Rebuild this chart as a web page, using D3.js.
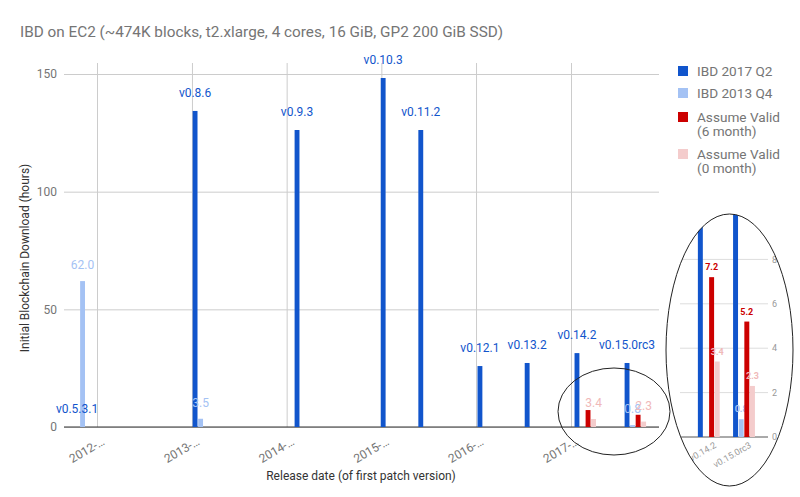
<!DOCTYPE html>
<html><head><meta charset="utf-8">
<script src="https://cdn.jsdelivr.net/npm/d3@7"></script>
<style>body{margin:0;background:#fff;} svg text{font-family:Roboto, Arial, sans-serif;}</style>
</head><body><svg id="c" width="800" height="497"></svg>
<script>
// ---------- data ----------
const versions = ["v0.5.3.1","v0.8.6","v0.9.3","v0.10.3","v0.11.2","v0.12.1","v0.13.2","v0.14.2","v0.15.0rc3"];
const releaseDates = ["2011-11-17","2013-02-14","2014-03-14","2015-02-09","2015-07-04","2016-02-17","2016-08-17","2017-02-25","2017-09-06"];
const ibd2017Q2 = [0,134.3,126.2,148.3,126.2,25.9,27.2,31.4,27.2];
const ibd2013Q4 = [62.0,3.5,null,null,null,null,null,null,0.8];
const assumeValid6 = [null,null,null,null,null,null,null,7.2,5.2];
const assumeValid0 = [null,null,null,null,null,null,null,3.4,2.3];
const seriesNames = [["IBD 2017 Q2"],["IBD 2013 Q4"],["Assume Valid","(6 month)"],["Assume Valid","(0 month)"]];
const seriesColors = ["#1155cc","#a4c2f4","#cc0000","#f4cccc"];
const labelColors = ["#1155cc","#a4c2f4","#cc0000","#f0b9b9"];
const yTicks = [0,50,100,150];
const xTickYears = [2012,2013,2014,2015,2016,2017];
const insetVersions = ["v0.14.2","v0.15.0rc3"];
const insetTicks = [0,2,4,6,8];
const titleText = "IBD on EC2 (~474K blocks, t2.xlarge, 4 cores, 16 GiB, GP2 200 GiB SSD)";
const yTitle = "Initial Blockchain Download (hours)";
const xTitle = "Release date (of first patch version)";

(function(){
const series = [ibd2017Q2, ibd2013Q4, assumeValid6, assumeValid0];
const parse = d3.timeParse("%Y-%m-%d");

const svg = d3.select("#c");
svg.append("rect").attr("width",800).attr("height",497).attr("fill","#fff");

// title
svg.append("text").attr("x",20).attr("y",37).attr("font-size",15.3).attr("fill","#757575").text(titleText);

// ---------- main chart ----------
const x = d3.scaleTime().domain([new Date(2012,0,1), new Date(2017,0,1)]).range([97,571]);
const y = d3.scaleLinear().domain([0,150]).range([427,74]);
const inner = d3.scaleBand().domain([0,1,2,3]).range([-11.4,11.4]).padding(0.12);
const pLeft = 64, pRight = 659, pTop = 63;

// horizontal grid + y labels
const ya = svg.append("g").attr("transform",`translate(${pLeft},0)`)
  .call(d3.axisLeft(y).tickValues(yTicks).tickSize(-(pRight-pLeft)).tickPadding(7));
ya.select(".domain").remove();
ya.selectAll(".tick line").attr("stroke","#cccccc");
ya.selectAll(".tick text").attr("font-size",12).attr("fill","#757575").attr("font-family","Roboto, Arial, sans-serif");

// vertical grid + x labels
const xa = svg.append("g").attr("transform",`translate(0,427)`)
  .call(d3.axisBottom(x).tickValues(xTickYears.map(yr=>new Date(yr,0,1))).tickSize(-(427-pTop)).tickFormat(d=>d3.timeFormat("%Y")(d)+"-\u2026"));
xa.select(".domain").remove();
xa.selectAll(".tick line").attr("stroke","#cccccc");
xa.selectAll(".tick text").attr("font-size",12).attr("fill","#757575").attr("font-family","Roboto, Arial, sans-serif")
  .attr("text-anchor","end").attr("y",0).attr("dy",0)
  .attr("transform","translate(8,17) rotate(-30)");

// baseline
svg.append("line").attr("x1",pLeft).attr("x2",pRight).attr("y1",y(0)).attr("y2",y(0)).attr("stroke","#333").attr("stroke-width",1);

// bars
const barsG = svg.append("g");
series.forEach((vals,si)=>{
  vals.forEach((v,i)=>{
    if(v===null) return;
    const cx = x(parse(releaseDates[i])) + inner(si);
    barsG.append("rect").attr("x",cx).attr("width",inner.bandwidth())
      .attr("y",y(v)).attr("height",y(0)-y(v)).attr("fill",seriesColors[si]);
  });
});
// labels (main)
versions.forEach((name,i)=>{
  const cx = x(parse(releaseDates[i])) + inner(0) + inner.bandwidth()/2;
  svg.append("text").attr("x",cx).attr("y",y(ibd2017Q2[i])-14).attr("text-anchor","middle")
    .attr("font-size",12).attr("fill",labelColors[0]).text(name);
});
[1,3].forEach(si=>{
  series[si].forEach((v,i)=>{
    if(v===null) return;
    const cx = x(parse(releaseDates[i])) + inner(si) + inner.bandwidth()/2;
    svg.append("text").attr("x",cx).attr("y",y(v)-12).attr("text-anchor","middle")
      .attr("font-size",12).attr("fill",labelColors[si]).text(v.toFixed(1));
  });
});

// axis titles
svg.append("text").attr("transform","translate(29,258) rotate(-90)").attr("text-anchor","middle")
  .attr("font-size",12).attr("fill","#333").text(yTitle);
svg.append("text").attr("x",361).attr("y",480).attr("text-anchor","middle")
  .attr("font-size",12).attr("fill","#333").text(xTitle);

// legend
const legendRows = [71,93,117,154];
seriesNames.forEach((lines,si)=>{
  const cy = legendRows[si];
  svg.append("rect").attr("x",678).attr("y",cy-5).attr("width",10).attr("height",10).attr("fill",seriesColors[si]);
  lines.forEach((t,k)=>{
    svg.append("text").attr("x",697).attr("y",cy+5+k*13.5).attr("font-size",13.6).attr("fill","#757575").text(t);
  });
});

// small ellipse highlighting region
svg.append("ellipse").attr("cx",614).attr("cy",411.5).attr("rx",56).attr("ry",43.5)
  .attr("fill","none").attr("stroke","#222").attr("stroke-width",1);

// ---------- inset (zoomed view) ----------
const ecx=729.5, ecy=350, erx=63.5, ery=136;
svg.append("clipPath").attr("id","ell").append("ellipse").attr("cx",ecx).attr("cy",ecy).attr("rx",erx).attr("ry",ery);
const ins = svg.append("g").attr("clip-path","url(#ell)");
ins.append("rect").attr("x",ecx-erx).attr("y",ecy-ery).attr("width",2*erx).attr("height",2*ery).attr("fill","#fff");
const iy = d3.scaleLinear().domain([0,8]).range([437,259.4]);
const ix = d3.scaleBand().domain(insetVersions).range([691.2,761.6]);
const iinner = d3.scaleBand().domain([0,1,2,3]).range([-11.6,11.6]).padding(0.12);
insetTicks.forEach(t=>{
  ins.append("line").attr("x1",680).attr("x2",768).attr("y1",iy(t)).attr("y2",iy(t))
    .attr("stroke", t===0 ? "#555" : "#dddddd").attr("stroke-width",1);
  ins.append("text").attr("x",772).attr("y",iy(t)).attr("dy","0.35em").attr("font-size",9).attr("fill","#999").text(t);
});
insetVersions.forEach((vn,k)=>{
  const i = versions.indexOf(vn);
  const gc = ix(vn) + ix.bandwidth()/2;
  series.forEach((vals,si)=>{
    const v = vals[i];
    if(v===null) return;
    const bx = gc + iinner(si);
    ins.append("rect").attr("x",bx).attr("width",iinner.bandwidth()).attr("y",iy(v)).attr("height",iy(0)-iy(v)).attr("fill",seriesColors[si]);
    if(si>0){
      ins.append("text").attr("x",bx+iinner.bandwidth()/2).attr("y",iy(v)-7).attr("text-anchor","middle")
        .attr("font-size",9).attr("font-weight","bold").attr("fill",labelColors[si]).text(v.toFixed(1));
    }
  });
  ins.append("text").attr("text-anchor","end").attr("font-size",9).attr("fill","#999")
    .attr("transform",`translate(${gc+8},447) rotate(-30)`).text(vn);
});
svg.append("ellipse").attr("cx",ecx).attr("cy",ecy).attr("rx",erx).attr("ry",ery)
  .attr("fill","none").attr("stroke","#222").attr("stroke-width",1);
})();
</script></body></html>
